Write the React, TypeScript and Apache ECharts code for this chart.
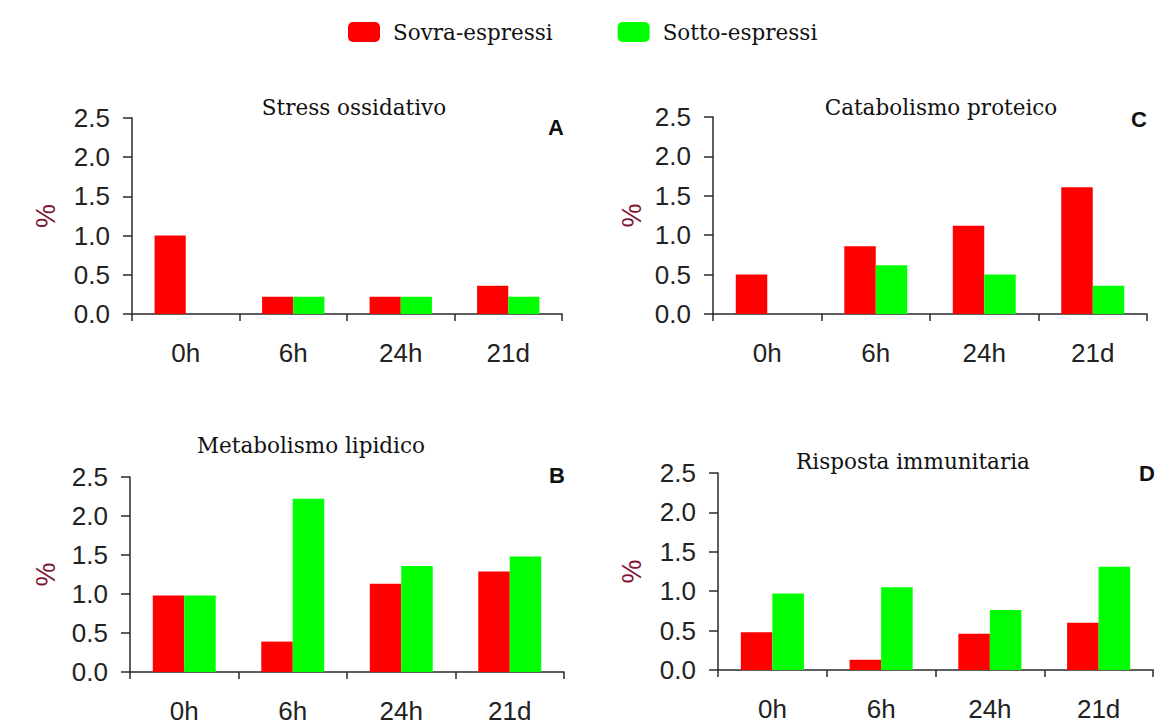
import React, { useEffect, useRef } from "react";
import * as echarts from "echarts";

const categories = ["0h", "6h", "24h", "21d"];
const panelTitles = ["Stress ossidativo", "Catabolismo proteico", "Metabolismo lipidico", "Risposta immunitaria"];
const panelLetters = ["A", "C", "B", "D"];
const seriesNames = ["Sovra-espressi", "Sotto-espressi"];
const yTicks = [0, 0.5, 1.0, 1.5, 2.0, 2.5];

const sovraA = [1.0, 0.22, 0.22, 0.36];
const sottoA = [0, 0.22, 0.22, 0.22];
const sovraC = [0.5, 0.86, 1.12, 1.61];
const sottoC = [0, 0.62, 0.5, 0.36];
const sovraB = [0.98, 0.39, 1.13, 1.29];
const sottoB = [0.98, 2.22, 1.36, 1.48];
const sovraD = [0.48, 0.13, 0.46, 0.6];
const sottoD = [0.97, 1.05, 0.76, 1.31];

const sovraData = [sovraA, sovraC, sovraB, sovraD];
const sottoData = [sottoA, sottoC, sottoB, sottoD];

const grids = [
  { left: 132, top: 118, width: 430, height: 196 },
  { left: 713, top: 117, width: 434, height: 197 },
  { left: 130, top: 477, width: 434, height: 195 },
  { left: 718, top: 473, width: 435, height: 197 },
];
const titlePos = [
  { x: 354, y: 96 },
  { x: 941, y: 96 },
  { x: 311, y: 434 },
  { x: 913, y: 450 },
];
const letterPos = [
  { x: 556, y: 127 },
  { x: 1139, y: 119 },
  { x: 557, y: 475 },
  { x: 1147, y: 473 },
];
const nameGaps = [73, 68, 71, 73];

const RED = "#ff0000";
const GREEN = "#00ff00";
const AXIS = "#2a2a2a";
const SERIF = "DejaVu Serif";
const SANS = "Liberation Sans";

export default function App() {
  const ref = useRef<HTMLDivElement>(null);
  useEffect(() => {
    if (!ref.current) return;
    const chart = echarts.init(ref.current, undefined, { renderer: "svg" });
    const option: any = {
      animation: false,
      backgroundColor: "#ffffff",
      legend: {
        left: 348,
        top: 21,
        padding: 0,
        itemWidth: 32,
        itemHeight: 20,
        itemGap: 65,
        icon: "roundRect",
        data: seriesNames,
        textStyle: {
          fontFamily: SERIF,
          fontSize: 21.5,
          color: "#111",
          padding: [0, 0, 0, 8],
        },
      },
      title: panelTitles.map((t, i) => ({
        text: t,
        left: titlePos[i].x,
        top: titlePos[i].y,
        textAlign: "center",
        padding: 0,
        textStyle: {
          fontFamily: SERIF,
          fontSize: 21.5,
          fontWeight: "normal",
          color: "#111",
        },
      })),
      graphic: panelLetters.map((l, i) => ({
        type: "text",
        x: letterPos[i].x,
        y: letterPos[i].y,
        style: {
          text: l,
          fontFamily: SANS,
          fontSize: 22,
          fontWeight: "bold",
          fill: "#111",
          align: "center",
          verticalAlign: "middle",
        },
      })),
      grid: grids.map((g) => ({ ...g, containLabel: false })),
      xAxis: grids.map((_, i) => ({
        type: "category",
        gridIndex: i,
        data: categories,
        boundaryGap: true,
        axisLine: { lineStyle: { color: AXIS, width: 1.5 } },
        axisTick: { show: true, inside: false, length: 7, alignWithLabel: false, lineStyle: { color: AXIS, width: 1.5 } },
        axisLabel: { margin: 26, fontFamily: SANS, fontSize: 26, color: "#222" },
        splitLine: { show: false },
      })),
      yAxis: grids.map((_, i) => ({
        type: "value",
        gridIndex: i,
        min: yTicks[0],
        max: yTicks[yTicks.length - 1],
        interval: 0.5,
        name: "%",
        nameLocation: "middle",
        nameRotate: 90,
        nameGap: nameGaps[i],
        nameTextStyle: { fontFamily: SANS, fontSize: 27, color: "#7f1734" },
        axisLine: { show: true, lineStyle: { color: AXIS, width: 1.5 } },
        axisTick: { show: true, inside: false, length: 9, lineStyle: { color: AXIS, width: 1.5 } },
        axisLabel: {
          margin: 22,
          fontFamily: SANS,
          fontSize: 26,
          color: "#222",
          formatter: (v: number) => v.toFixed(1),
        },
        splitLine: { show: false },
      })),
      series: grids.flatMap((_, i) => [
        {
          name: seriesNames[0],
          type: "bar",
          xAxisIndex: i,
          yAxisIndex: i,
          data: sovraData[i],
          barWidth: "29%",
          barGap: "0%",
          itemStyle: { color: RED },
        },
        {
          name: seriesNames[1],
          type: "bar",
          xAxisIndex: i,
          yAxisIndex: i,
          data: sottoData[i],
          barWidth: "29%",
          barGap: "0%",
          itemStyle: { color: GREEN },
        },
      ]),
    };
    chart.setOption(option);
    return () => chart.dispose();
  }, []);
  return (
    <div
      ref={ref}
      style={{ position: "fixed", left: 0, top: 0, width: 1161, height: 727, background: "#fff" }}
    />
  );
}
